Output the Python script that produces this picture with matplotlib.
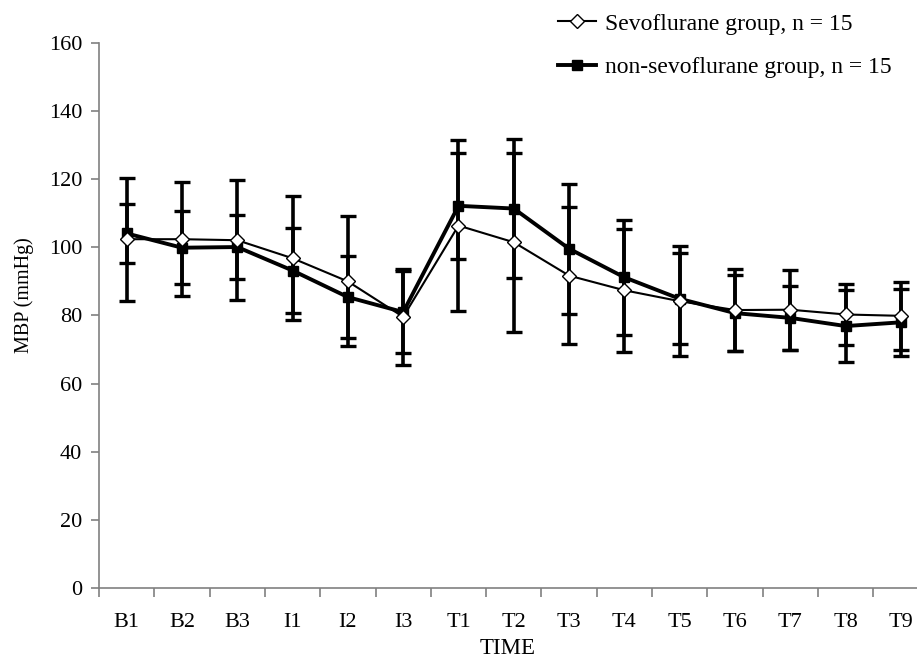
import matplotlib
matplotlib.use("Agg")
import matplotlib.pyplot as plt
import numpy as np

categories = ["B1", "B2", "B3", "I1", "I2", "I3", "T1", "T2", "T3", "T4", "T5", "T6", "T7", "T8", "T9"]
sevo_mean = [102.4, 102.4, 102.1, 96.8, 90.0, 79.6, 106.4, 101.5, 91.7, 87.4, 84.2, 81.6, 81.7, 80.3, 79.9]
sevo_sd   = [18.1, 16.8, 17.6, 18.2, 19.1, 14.0, 25.2, 26.2, 20.2, 18.1, 16.2, 12.0, 11.8, 9.0, 9.9]
non_mean  = [104.1, 99.9, 100.1, 93.2, 85.4, 81.0, 112.2, 111.4, 99.6, 91.2, 84.9, 80.7, 79.3, 76.9, 78.0]
non_sd    = [8.6, 10.7, 9.4, 12.4, 12.1, 12.0, 15.6, 20.3, 19.1, 16.8, 13.4, 11.2, 9.5, 10.5, 9.8]
yticks = [0, 20, 40, 60, 80, 100, 120, 140, 160]

plt.rcParams['font.family'] = ['Liberation Serif', 'DejaVu Serif']

fig = plt.figure(figsize=(9.17, 6.58), dpi=100)
ax = fig.add_axes([99/917, 1 - 588/658, (917 - 99)/917, (588 - 43)/658])

x = np.arange(len(categories))
ax.errorbar(x, non_mean, yerr=non_sd, fmt='none', ecolor='black', elinewidth=2.6,
            capsize=5.5, capthick=2.4, zorder=2)
ax.errorbar(x, sevo_mean, yerr=sevo_sd, fmt='none', ecolor='black', elinewidth=2.6,
            capsize=5.5, capthick=2.4, zorder=2)
ax.plot(x, sevo_mean, color='black', lw=1.5, marker='D', markersize=7,
        markerfacecolor='white', markeredgecolor='black', markeredgewidth=1.0,
        label='Sevoflurane group, n = 15', zorder=4)
ax.plot(x, non_mean, color='black', lw=2.8, marker='s', markersize=6.5,
        markerfacecolor='black', markeredgecolor='black',
        label='non-sevoflurane group, n = 15', zorder=3)

ax.set_ylim(0, 160)
ax.set_yticks(yticks)
ax.set_xlim(-0.5, 14.29)
ax.set_xticks(x)
ax.set_xticklabels(categories)
ax.set_xticks(np.arange(-0.5, 14.5, 1.0), minor=True)
ax.tick_params(axis='x', which='major', length=0, pad=18, labelsize=16)
ax.tick_params(axis='x', which='minor', length=6.5, width=1.2, color='#808080', direction='out')
ax.tick_params(axis='y', length=6, width=1.2, color='#808080', direction='out', labelsize=16, pad=6)

for s in ['top', 'right']:
    ax.spines[s].set_visible(False)
for s in ['left', 'bottom']:
    ax.spines[s].set_color('#808080')
    ax.spines[s].set_linewidth(1.2)

ax.set_xlabel('TIME', fontsize=16.5, labelpad=4)
ax.set_ylabel('MBP (mmHg)', fontsize=14.5)
ax.yaxis.set_label_coords((34 - 99) / 818, 0.538)

leg = fig.legend(loc='upper left', bbox_to_anchor=(558/917, 1 - 13/658), frameon=False,
                 fontsize=17, handlelength=1.6, handletextpad=0.4, labelspacing=0.93,
                 borderaxespad=0, borderpad=0)

fig.savefig('out.png', dpi=100)
